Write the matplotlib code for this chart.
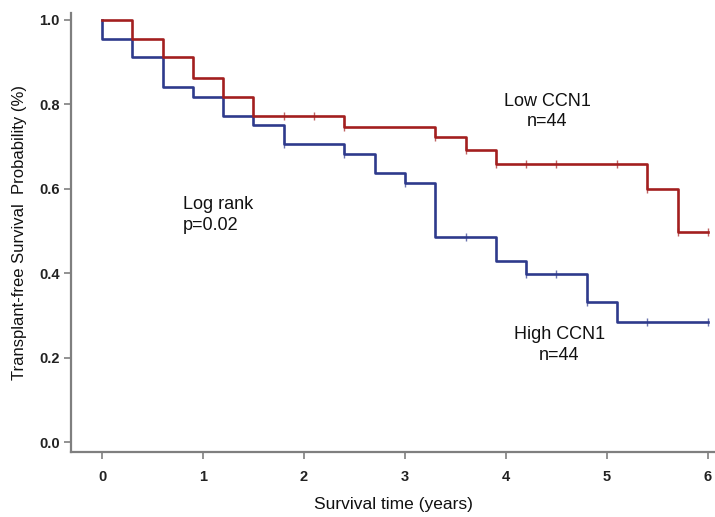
import matplotlib
matplotlib.use("Agg")
import matplotlib.pyplot as plt

# Low CCN1 (red) step curve
low_times = [0, 0.3, 0.6, 0.9, 1.2, 1.5, 2.4, 3.3, 3.6, 3.9, 5.4, 5.7, 6.0]
low_surv = [1.0, 0.955, 0.911, 0.863, 0.818, 0.772, 0.747, 0.723, 0.692, 0.659, 0.599, 0.498, 0.498]
low_cens_t = [1.8, 2.1, 2.4, 3.3, 3.6, 3.9, 4.2, 4.5, 5.1, 5.4, 5.7, 6.0]
low_cens_s = [0.772, 0.772, 0.747, 0.723, 0.692, 0.659, 0.659, 0.659, 0.659, 0.599, 0.498, 0.498]

# High CCN1 (blue) step curve
high_times = [0, 0.3, 0.6, 0.9, 1.2, 1.5, 1.8, 2.4, 2.7, 3.0, 3.3, 3.9, 4.2, 4.8, 5.1, 6.0]
high_surv = [0.955, 0.911, 0.842, 0.818, 0.772, 0.750, 0.705, 0.682, 0.637, 0.613, 0.485, 0.429, 0.398, 0.332, 0.285, 0.285]
high_cens_t = [1.8, 2.4, 3.0, 3.6, 4.2, 4.5, 4.8, 5.4, 6.0]
high_cens_s = [0.705, 0.682, 0.613, 0.485, 0.398, 0.398, 0.332, 0.285, 0.285]

xticks = [0, 1, 2, 3, 4, 5, 6]
yticks = [0.0, 0.2, 0.4, 0.6, 0.8, 1.0]

red = "#A31F1F"
blue = "#2E3A8C"
gray = "#7F7F7F"

fig = plt.figure(figsize=(7.15, 5.17), dpi=100)
ax = fig.add_axes([0.0993, 0.1257, 0.9007, 0.8493])

# blue starts at 1.0 at t=0
ax.step([0] + high_times, [1.0] + high_surv, where="post", color=blue, lw=1.9)
ax.step(low_times, low_surv, where="post", color=red, lw=1.9)
ax.plot(low_cens_t, low_cens_s, ls="none", marker="|", ms=6, mew=1.0, color=red, alpha=0.7)
ax.plot(high_cens_t, high_cens_s, ls="none", marker="|", ms=6, mew=1.0, color=blue, alpha=0.7)

ax.set_xlim(-0.307, 6.07)
ax.set_ylim(-0.0237, 1.0166)

for s in ["top", "right"]:
    ax.spines[s].set_visible(False)
for s in ["left", "bottom"]:
    ax.spines[s].set_color(gray)
    ax.spines[s].set_linewidth(1.6)

tickfont = dict(family=["Liberation Sans Narrow", "Liberation Sans", "DejaVu Sans"], weight="bold", size=10.5)
ax.set_xticks(xticks)
ax.set_xticklabels([str(t) for t in xticks], fontdict=tickfont)
ax.set_yticks(yticks)
ax.set_yticklabels([f"{t:.1f}" for t in yticks], fontdict=tickfont)
ax.tick_params(axis="both", colors=gray, length=5, width=1.2, direction="out", labelcolor="#222222")
ax.tick_params(axis="x", pad=8)
ax.tick_params(axis="y", pad=3)

ax.set_xlabel("Survival time (years)", family=["Liberation Sans", "DejaVu Sans"], size=12.5,
              labelpad=9, color="#111111")
ax.set_ylabel("Transplant-free Survival  Probability (%)", family=["Liberation Sans", "DejaVu Sans"],
              size=12, labelpad=9, color="#111111")

txt = dict(family=["Liberation Sans", "DejaVu Sans"], size=13, color="#111111")
ax.text(4.41, 0.783, "Low CCN1\nn=44", ha="center", va="center", linespacing=1.3, **txt)
ax.text(0.80, 0.537, "Log rank\np=0.02", ha="left", va="center", linespacing=1.3, **txt)
ax.text(4.53, 0.230, "High CCN1\nn=44", ha="center", va="center", linespacing=1.3, **txt)

fig.savefig("out.png", dpi=100)
